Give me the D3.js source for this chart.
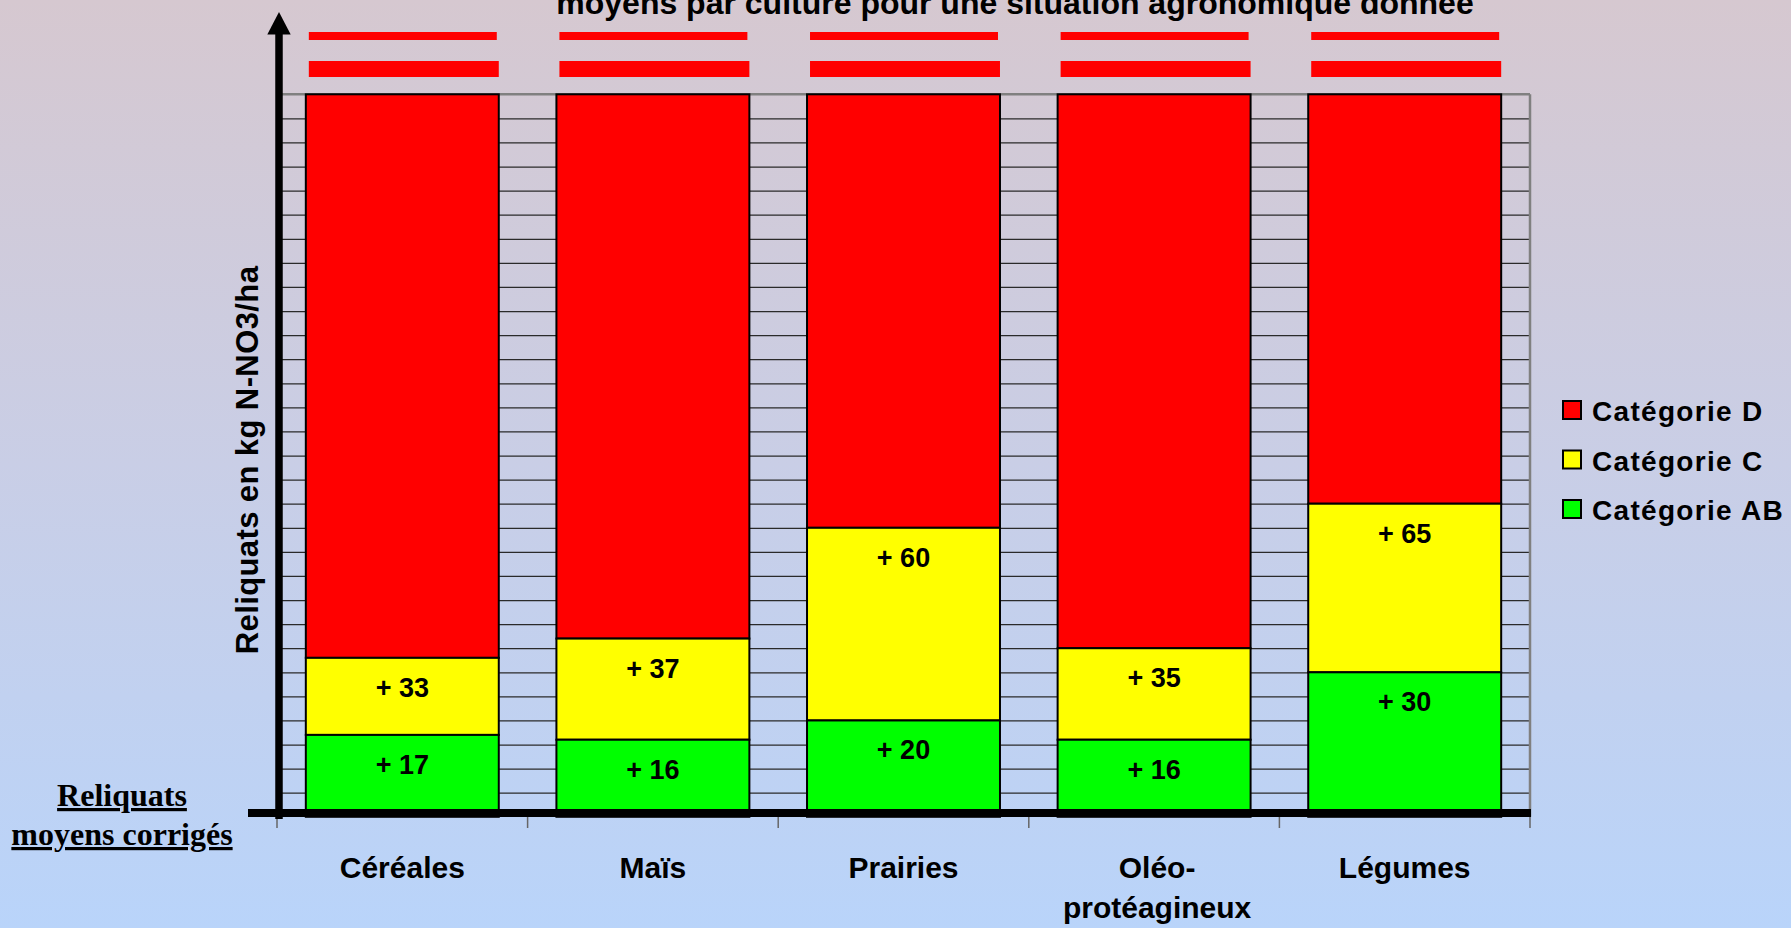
<!DOCTYPE html>
<html>
<head>
<meta charset="utf-8">
<script src="https://cdn.jsdelivr.net/npm/d3@7"></script>
<style>
  html, body { margin: 0; padding: 0; overflow: hidden; }
  svg { display: block; }
  text { font-family: "Liberation Sans", Arial, sans-serif; font-weight: bold; fill: #000; }
</style>
</head>
<body>
<script>
// ---- data ----
const categories = ["Céréales", "Maïs", "Prairies", "Oléo-\nprotéagineux", "Légumes"];
const seuilAB = [17, 16, 20, 16, 30];   // Catégorie AB (upper bound)
const seuilC  = [33, 37, 60, 35, 65];   // Catégorie C (upper bound)
const yMax = 150;                       // top of chart (Catégorie D)
const gridStep = 5;
const seriesNames = ["Catégorie D", "Catégorie C", "Catégorie AB"];
const seriesColors = ["#ff0000", "#ffff00", "#00ff00"];
const titleText = "moyens par culture pour une situation agronomique donnée";
const yTitle = "Reliquats en kg N-NO3/ha";
const cornerText = ["Reliquats", "moyens corrigés"];

const W = 1791, H = 928;
const svg = d3.select("body").append("svg").attr("width", W).attr("height", H);

// background gradient
const defs = svg.append("defs");
const grad = defs.append("linearGradient").attr("id", "bg").attr("x1", 0).attr("y1", 0).attr("x2", 0).attr("y2", 1);
grad.append("stop").attr("offset", "0%").attr("stop-color", "#d6c8d0");
grad.append("stop").attr("offset", "50%").attr("stop-color", "#c9cee6");
grad.append("stop").attr("offset", "100%").attr("stop-color", "#b9d4fa");
svg.append("rect").attr("width", W).attr("height", H).attr("fill", "url(#bg)");

const plotL = 279, plotR = 1530, plotTop = 94.3, plotBot = 816.8;

const x = d3.scaleBand().domain(categories).range([277, plotR]).paddingInner(0.23).paddingOuter(0.115);
const y = d3.scaleLinear().domain([0, yMax]).range([plotBot, plotTop]);

// gridlines via axis
const grid = svg.append("g").attr("transform", `translate(${plotL},0)`)
  .call(d3.axisLeft(y).tickValues(d3.range(gridStep, yMax, gridStep)).tickSize(-(plotR - plotL)).tickFormat(""));
grid.select(".domain").remove();
grid.selectAll(".tick line").attr("stroke", "#2a2a2a").attr("stroke-width", 1.2);

// top border and right border (gray)
svg.append("line").attr("x1", plotL).attr("x2", plotR).attr("y1", y(yMax)).attr("y2", y(yMax))
  .attr("stroke", "#808080").attr("stroke-width", 2.5);
svg.append("line").attr("x1", plotR).attr("x2", plotR).attr("y1", y(yMax)).attr("y2", plotBot)
  .attr("stroke", "#808080").attr("stroke-width", 2.5);

// stacked bars
const rows = categories.map((c, i) => ({ cat: c, ab: seuilAB[i], c: seuilC[i] }));
const segs = [];
rows.forEach(r => {
  segs.push({ cat: r.cat, y0: r.c, y1: yMax, color: seriesColors[0], label: null });
  segs.push({ cat: r.cat, y0: r.ab, y1: r.c, color: seriesColors[1], label: "+ " + r.c });
  segs.push({ cat: r.cat, y0: 0, y1: r.ab, color: seriesColors[2], label: "+ " + r.ab });
});
svg.append("g").selectAll("rect").data(segs).join("rect")
  .attr("x", d => x(d.cat))
  .attr("width", x.bandwidth())
  .attr("y", d => y(d.y1))
  .attr("height", d => y(d.y0) - y(d.y1))
  .attr("fill", d => d.color)
  .attr("stroke", "#000").attr("stroke-width", 2);

// value labels
svg.append("g").selectAll("text").data(segs.filter(d => d.label)).join("text")
  .attr("x", d => x(d.cat) + x.bandwidth() / 2)
  .attr("y", d => y(d.y1) + 39)
  .attr("text-anchor", "middle")
  .attr("font-size", 27)
  .text(d => d.label);

// red stripes above bars (break marks)
const stripes = svg.append("g");
categories.forEach(c => {
  stripes.append("rect").attr("x", x(c) + 3).attr("width", x.bandwidth() - 5)
    .attr("y", 32).attr("height", 8).attr("fill", "#ff0000");
  stripes.append("rect").attr("x", x(c) + 3).attr("width", x.bandwidth() - 3)
    .attr("y", 61).attr("height", 16).attr("fill", "#ff0000");
});

// category boundary ticks below axis
const bounds = categories.map(c => x(c) - x.step() * x.paddingInner() / 2).concat([plotR]);
bounds[0] = x.range()[0];
svg.append("g").selectAll("line").data(bounds).join("line")
  .attr("x1", d => d).attr("x2", d => d).attr("y1", 816).attr("y2", 828)
  .attr("stroke", "#666").attr("stroke-width", 1.5);

// x axis (thick)
svg.append("line").attr("x1", 248).attr("x2", plotR + 1).attr("y1", 813).attr("y2", 813)
  .attr("stroke", "#000").attr("stroke-width", 8);
// y axis (thick) with arrow
svg.append("line").attr("x1", plotL).attr("x2", plotL).attr("y1", 819).attr("y2", 30)
  .attr("stroke", "#000").attr("stroke-width", 7.5);
svg.append("path").attr("d", d3.line()([[plotL, 12], [plotL - 11.7, 34.5], [plotL + 11.7, 34.5]]) + "Z")
  .attr("fill", "#000");

// category labels
svg.append("g").selectAll("text").data(categories).join("text")
  .attr("x", d => x(d) + x.bandwidth() / 2 + (d.includes("\n") ? 3 : 0))
  .attr("y", 878)
  .attr("text-anchor", "middle")
  .attr("font-size", 30)
  .each(function (d) {
    const t = d3.select(this);
    d.split("\n").forEach((line, i) => {
      t.append("tspan").attr("x", t.attr("x")).attr("dy", i === 0 ? 0 : 40).text(line);
    });
  });

// y axis title
svg.append("text")
  .attr("transform", `translate(258,${460}) rotate(-90)`)
  .attr("text-anchor", "middle")
  .attr("font-size", 31)
  .attr("letter-spacing", 0.4)
  .text(yTitle);

// title (partially cut at top, as in the reference)
svg.append("text").attr("x", 1015).attr("y", 14).attr("text-anchor", "middle")
  .attr("font-size", 32).text(titleText);

// legend
const leg = svg.append("g").attr("transform", "translate(1563,401)");
seriesNames.forEach((n, i) => {
  const g = leg.append("g").attr("transform", `translate(0,${i * 49.5})`);
  g.append("rect").attr("width", 18).attr("height", 18).attr("fill", seriesColors[i])
    .attr("stroke", "#000").attr("stroke-width", 2);
  g.append("text").attr("x", 29).attr("y", 20).attr("font-size", 28).attr("letter-spacing", 1.3).text(n);
});

// corner text (serif, underlined)
svg.append("g").selectAll("text").data(cornerText).join("text")
  .attr("x", 122).attr("y", (d, i) => 806 + i * 39)
  .attr("text-anchor", "middle")
  .style("font-family", '"Liberation Serif", "Times New Roman", serif')
  .attr("font-size", 32)
  .style("text-decoration", "underline")
  .text(d => d);
</script>
</body>
</html>
